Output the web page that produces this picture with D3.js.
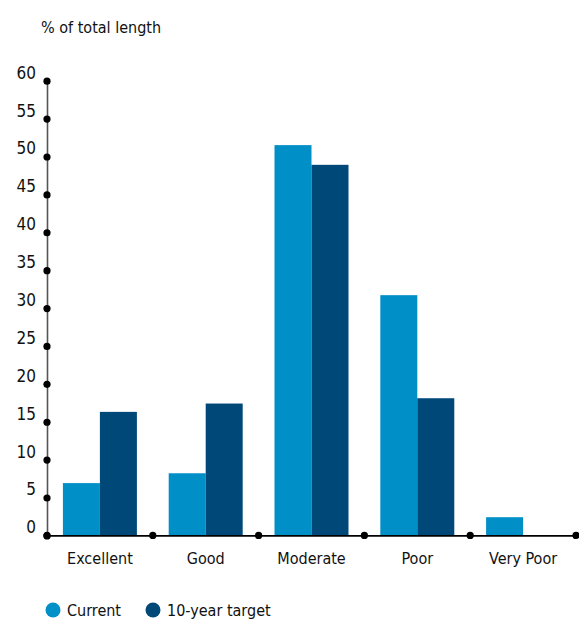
<!DOCTYPE html>
<html><head><meta charset="utf-8">
<script src="https://cdn.jsdelivr.net/npm/d3@7"></script>
<style>body{margin:0;background:#fff}svg{display:block}</style>
</head><body>
<script>
const categories = ["Excellent","Good","Moderate","Poor","Very Poor"];
const seriesNames = ["Current","10-year target"];
const currentValues = [6.9, 8.2, 51.5, 31.7, 2.4];
const targetValues = [16.3, 17.4, 48.9, 18.1, 0];
const yTicks = [0,5,10,15,20,25,30,35,40,45,50,55,60];
const colors = ["#008fc7","#004877"];
const font = "'Liberation Sans Narrow','DejaVu Sans Condensed',sans-serif";

const W = 579, H = 619;
const svg = d3.select("body").append("svg").attr("width", W).attr("height", H)
  .style("font-family", font);

const x0 = 47, x1 = 576, yTop = 80.7, yBot = 535.4;
const x = d3.scaleBand().domain(categories).range([x0, x1]).paddingInner(0).paddingOuter(0);
const xs = d3.scaleBand().domain(seriesNames).range([0, x.bandwidth()]).paddingInner(0).paddingOuter(0.43);
const y = d3.scaleLinear().domain([0, 60]).range([yBot, yTop]);

const data = categories.map((c, i) => ({cat: c, vals: [currentValues[i], targetValues[i]]}));

// bars
const g = svg.append("g");
data.forEach(d => {
  d.vals.forEach((v, j) => {
    if (v <= 0) return;
    g.append("rect")
      .attr("x", x(d.cat) + xs(seriesNames[j]))
      .attr("y", y(v))
      .attr("width", xs.bandwidth())
      .attr("height", y(0) - y(v))
      .attr("fill", colors[j]);
  });
});

// y axis
const yAxis = d3.axisLeft(y).tickValues(yTicks).tickSize(0).tickPadding(11);
const ya = svg.append("g").attr("transform", `translate(${x0},0)`).call(yAxis);
ya.select(".domain").attr("stroke", "#555").attr("stroke-width", 1.6);
ya.selectAll("text").attr("font-size", 17).attr("fill", "#111").attr("font-family", font).attr("dy", "-0.15em");
ya.selectAll(".tick").append("circle").attr("r", 3.6).attr("fill", "#000");

// x axis
const xAxis = d3.axisBottom(x).tickSize(0).tickPadding(17);
const xa = svg.append("g").attr("transform", `translate(0,${yBot})`).call(xAxis);
xa.select(".domain").attr("stroke", "#000").attr("stroke-width", 1.6);
xa.selectAll("text").attr("font-size", 16).attr("fill", "#111").attr("font-family", font);
const bounds = categories.map(c => x(c)).concat([x1]);
xa.selectAll("circle.bd").data(bounds).enter().append("circle")
  .attr("class","bd").attr("cx", d => d).attr("cy", 0).attr("r", 3.6).attr("fill", "#000");

// title
svg.append("text").attr("x", 41).attr("y", 33).attr("font-size", 16).attr("fill", "#111")
  .text("% of total length");

// legend
const legX = [53, 153];
seriesNames.forEach((s, i) => {
  svg.append("circle").attr("cx", legX[i]).attr("cy", 610).attr("r", 7.5).attr("fill", colors[i]);
  svg.append("text").attr("x", legX[i] + 14).attr("y", 616).attr("font-size", 16).attr("fill", "#111").text(s);
});
</script>
</body></html>
